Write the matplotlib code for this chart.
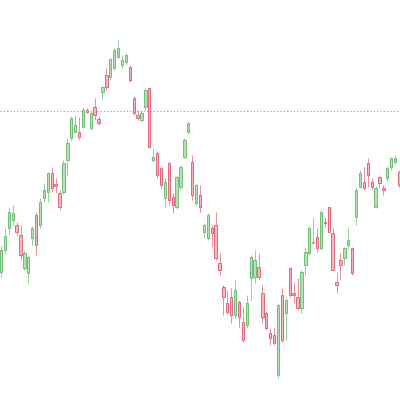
import matplotlib
matplotlib.use("Agg")
import matplotlib.pyplot as plt

# OHLC, one entry per candle
opens = [128, 150, 172, 180, 175, 165, 132, 127, 162, 185,
         175, 202, 208, 227, 216, 207, 208, 240, 262, 268,
         268, 273, 290, 272, 293, 281, 308, 325, 323, 332,
         343, 335, 338, 333, 302, 285, 280, 293, 312, 240,
         247, 232, 202, 237, 203, 193, 213, 243, 268, 238,
         197, 205, 168, 162, 172, 175, 137, 113, 97, 103,
         85, 98, 78, 75, 122, 123, 133, 107, 87, 67,
         65, 25, 105, 87, 132, 107, 103, 92, 135, 147,
         157, 163, 152, 178, 193, 167, 118, 140, 142, 155,
         152, 183, 213, 218, 237, 218, 193, 223, 212, 222,
         233, 238, 228]
highs = [155, 172, 192, 195, 178, 175, 150, 145, 174, 188,
         202, 217, 228, 233, 222, 210, 240, 262, 284, 285,
         283, 293, 292, 289, 302, 284, 314, 332, 342, 352,
         360, 345, 347, 335, 304, 290, 290, 312, 313, 252,
         249, 234, 222, 238, 207, 225, 235, 262, 279, 245,
         217, 215, 177, 187, 175, 188, 147, 115, 110, 112,
         120, 100, 93, 105, 145, 150, 147, 115, 89, 72,
         73, 97, 112, 103, 133, 118, 122, 130, 152, 174,
         182, 172, 190, 183, 193, 172, 128, 147, 153, 172,
         153, 212, 230, 233, 242, 222, 214, 225, 215, 234,
         243, 244, 230]
lows = [123, 147, 165, 175, 165, 140, 130, 117, 155, 145,
        172, 198, 198, 208, 207, 190, 206, 225, 260, 268,
        260, 272, 287, 270, 280, 275, 300, 310, 320, 330,
        342, 332, 335, 318, 285, 280, 278, 290, 252, 238,
        222, 212, 192, 195, 187, 191, 210, 242, 266, 200,
        194, 188, 162, 160, 153, 140, 125, 85, 86, 77,
        82, 73, 58, 72, 100, 117, 121, 77, 70, 55,
        55, 22, 58, 60, 103, 97, 90, 87, 125, 145,
        157, 148, 150, 173, 168, 130, 107, 120, 135, 150,
        125, 175, 212, 210, 213, 211, 192, 212, 205, 219,
        230, 236, 213]
closes = [150, 164, 188, 187, 168, 145, 147, 143, 172, 155,
          198, 210, 227, 212, 214, 193, 237, 257, 282, 275,
          263, 290, 288, 287, 285, 277, 313, 313, 341, 350,
          352, 340, 345, 320, 287, 282, 287, 310, 253, 243,
          225, 215, 218, 200, 195, 223, 233, 260, 277, 205,
          215, 193, 175, 185, 167, 142, 130, 103, 88, 85,
          110, 83, 60, 97, 143, 140, 123, 83, 72, 62,
          57, 95, 60, 100, 105, 105, 92, 128, 148, 172,
          158, 152, 188, 177, 168, 130, 115, 135, 152, 160,
          127, 210, 227, 212, 225, 213, 212, 217, 210, 232,
          242, 242, 215]
ref_level = 289

up_fill, up_edge = "#b6e0b8", "#6fbf74"
dn_fill, dn_edge = "#f6b7c1", "#e3677b"

fig = plt.figure(figsize=(4, 4), dpi=100)
ax = fig.add_axes([0, 0, 1, 1])

for i, (o, h, l, c) in enumerate(zip(opens, highs, lows, closes)):
    up = c >= o
    fill = up_fill if up else dn_fill
    edge = up_edge if up else dn_edge
    ax.vlines(i, l, h, color=edge, linewidth=0.7, alpha=0.75, zorder=1)
    body = max(abs(c - o), 1.2)
    ax.bar(i, body, bottom=min(o, c), width=0.6, color=fill,
           edgecolor=edge, linewidth=0.7, zorder=2)

ax.axhline(ref_level, color="#999999", linestyle=(0, (1, 2)), linewidth=0.8, zorder=0)

ax.set_xlim(-0.26, len(opens) - 1 + 0.26)
ax.set_ylim(0, 400)
ax.axis("off")

fig.savefig("out.png", dpi=100, facecolor="white")
